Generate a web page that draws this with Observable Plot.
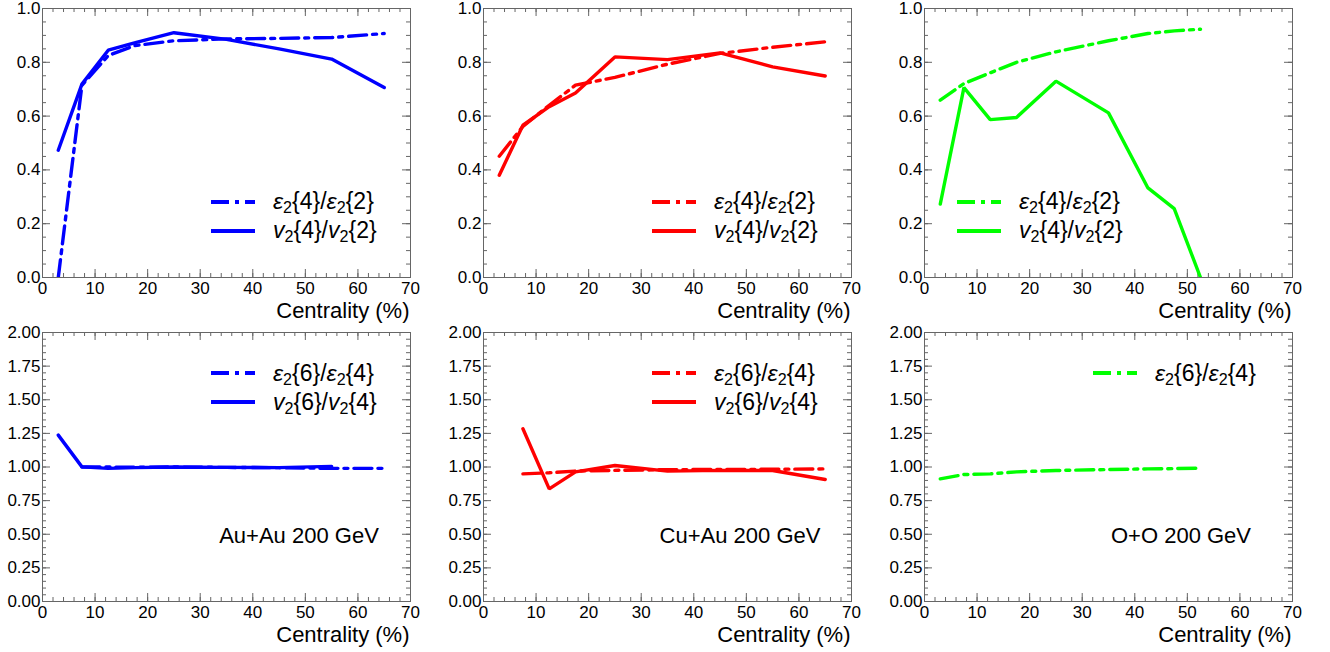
<!DOCTYPE html>
<html>
<head>
<meta charset="utf-8">
<script src="https://cdn.jsdelivr.net/npm/d3@7"></script>
<script src="https://cdn.jsdelivr.net/npm/@observablehq/plot@0.6"></script>
<style>
  html, body { margin: 0; padding: 0; background: #fff; }
  body { font-family: "Liberation Sans", Arial, Helvetica, sans-serif; }
  #root { position: relative; width: 1330px; height: 652px; overflow: hidden; }
  .panel { position: absolute; width: 440px; height: 326px; }
  .legend { position: absolute; left: 211px; font-size: 23px; color: #000; }
  .row { display: flex; align-items: center; height: 29px; white-space: nowrap; }
  .row svg { flex: none; }
  .row span { margin-left: 18px; }
  sub { font-size: 70%; vertical-align: -0.25em; line-height: 0; }
  .sys { position: absolute; font-size: 22px; transform: translate(-50%, -50%); white-space: nowrap; }
</style>
</head>
<body>
<div id="root"></div>
<script>
// ---------- data ----------
const xTickLabels = [0, 10, 20, 30, 40, 50, 60, 70];
const yTicksTop = [0, 0.2, 0.4, 0.6, 0.8, 1.0];
const yTicksBottom = [0, 0.25, 0.5, 0.75, 1.0, 1.25, 1.5, 1.75, 2.0];

const centAuCu = [3, 7.5, 12.5, 17.5, 25, 35, 45, 55, 65];
const centO = [3, 7.5, 12.5, 17.5, 25, 35, 42.5, 47.5, 52.5];

// Au+Au
const auEps42 = [0.0, 0.715, 0.825, 0.862, 0.88, 0.887, 0.889, 0.892, 0.907];
const auV42 = [0.473, 0.719, 0.845, 0.872, 0.91, 0.885, 0.85, 0.812, 0.706];
const auEps64 = [null, 1.0, 1.0, 0.998, 1.0, 0.997, 0.995, 0.99, 0.99];
const auV64 = [1.237, 1.001, 0.99, 0.995, 1.0, 0.997, 0.995, 1.005, null];

// Cu+Au
const cuEps42 = [0.451, 0.562, 0.64, 0.715, 0.744, 0.793, 0.833, 0.856, 0.876];
const cuV42 = [0.38, 0.566, 0.635, 0.686, 0.82, 0.81, 0.835, 0.783, 0.749];
const cuEps64 = [null, 0.949, 0.957, 0.97, 0.975, 0.98, 0.982, 0.983, 0.986];
const cuV64 = [null, 1.284, 0.837, 0.964, 1.011, 0.969, 0.975, 0.974, 0.907];

// O+O
const oEps42 = [0.659, 0.721, 0.761, 0.80, 0.839, 0.88, 0.907, 0.917, 0.923];
const oV42 = [0.273, 0.706, 0.587, 0.595, 0.73, 0.612, 0.333, 0.256, 0.0];
const oEps64 = [0.912, 0.944, 0.949, 0.964, 0.974, 0.981, 0.986, 0.988, 0.991];

const systems = ["Au+Au 200 GeV", "Cu+Au 200 GeV", "O+O 200 GeV"];
const colors = ["#0000ff", "#ff0000", "#00ff00"];

// ---------- layout ----------
const W = 440, H = 326, ML = 42, MR = 30, MT = 8, MB = 49;
const FW = W - ML - MR, FH = H - MT - MB;
const DASHDOT = "18,6,4,6";
const FRAME = "#666666";

function toRows(cent, vals) {
  return cent.map((c, i) => ({c, v: vals[i]}));
}

function makePlot({yDomain, yTicks, yMinorStep, yFmt, series}) {
  const xMinor = d3.range(0, 70.001, 2);
  const yMinor = d3.range(yDomain[0], yDomain[1] + 1e-9, yMinorStep);
  const marks = [
    Plot.frame({stroke: FRAME, strokeWidth: 1}),
    Plot.tickX(xMinor, {x: d => d, insetTop: FH - 4, stroke: FRAME}),
    Plot.tickX(xTickLabels, {x: d => d, insetTop: FH - 8, stroke: FRAME}),
    Plot.tickX(xMinor, {x: d => d, insetBottom: FH - 4, stroke: FRAME}),
    Plot.tickX(xTickLabels, {x: d => d, insetBottom: FH - 8, stroke: FRAME}),
    Plot.tickY(yMinor, {y: d => d, insetRight: FW - 4, stroke: FRAME}),
    Plot.tickY(yTicks, {y: d => d, insetRight: FW - 8, stroke: FRAME}),
    Plot.tickY(yMinor, {y: d => d, insetLeft: FW - 4, stroke: FRAME}),
    Plot.tickY(yTicks, {y: d => d, insetLeft: FW - 8, stroke: FRAME}),
    Plot.axisX({ticks: xTickLabels, tickSize: 0, tickPadding: 4, tickFormat: d => String(d), label: null, fontSize: 17}),
    Plot.axisY({ticks: yTicks, tickSize: 0, tickPadding: 2, tickFormat: yFmt, label: null, fontSize: 17}),
    Plot.text(["Centrality (%)"], {text: d => d, frameAnchor: "bottom-right", textAnchor: "end", lineAnchor: "middle", dy: 33, dx: -1, fontSize: 22, fill: "#000"})
  ];
  for (const s of series) {
    marks.push(Plot.line(toRows(s.cent, s.vals), {
      x: "c", y: "v", stroke: s.color, strokeWidth: 3.4,
      strokeDasharray: s.dash ? DASHDOT : null, clip: true, strokeLinejoin: "miter"
    }));
  }
  return Plot.plot({
    width: W, height: H, marginLeft: ML, marginRight: MR, marginTop: MT, marginBottom: MB,
    x: {domain: [0, 70]},
    y: {domain: yDomain},
    style: {fontFamily: '"Liberation Sans", Arial, Helvetica, sans-serif', fontSize: "17px", background: "transparent", color: "#000"},
    marks
  });
}

function legendHTML(entries, top, left) {
  const div = document.createElement("div");
  div.className = "legend";
  div.style.top = top + "px";
  if (left != null) div.style.left = left + "px";
  for (const e of entries) {
    const row = document.createElement("div");
    row.className = "row";
    row.innerHTML = `<svg width="44" height="8"><line x1="0" x2="44" y1="4" y2="4" stroke="${e.color}" stroke-width="3.8" ${e.dash ? `stroke-dasharray="${DASHDOT}"` : ""}/></svg><span>${e.label}</span>`;
    div.appendChild(row);
  }
  return div;
}

const epsLabel = (a, b) => `<i>ε</i><sub>2</sub>{${a}}/<i>ε</i><sub>2</sub>{${b}}`;
const vLabel = (a, b) => `<i>v</i><sub>2</sub>{${a}}/<i>v</i><sub>2</sub>{${b}}`;

const root = document.getElementById("root");
const lefts = [0, 441, 882];

const topSeries = [
  [{cent: centAuCu, vals: auEps42, dash: true}, {cent: centAuCu, vals: auV42, dash: false}],
  [{cent: centAuCu, vals: cuEps42, dash: true}, {cent: centAuCu, vals: cuV42, dash: false}],
  [{cent: centO, vals: oEps42, dash: true}, {cent: centO, vals: oV42, dash: false}]
];
const bottomSeries = [
  [{cent: centAuCu, vals: auEps64, dash: true}, {cent: centAuCu, vals: auV64, dash: false}],
  [{cent: centAuCu, vals: cuEps64, dash: true}, {cent: centAuCu, vals: cuV64, dash: false}],
  [{cent: centO, vals: oEps64, dash: true}]
];

for (let i = 0; i < 3; i++) {
  const pTop = document.createElement("div");
  pTop.className = "panel";
  pTop.style.left = lefts[i] + "px";
  pTop.style.top = "0px";
  pTop.appendChild(makePlot({
    yDomain: [0, 1], yTicks: yTicksTop, yMinorStep: 0.05, yFmt: d3.format(".1f"),
    series: topSeries[i].map(s => ({...s, color: colors[i]}))
  }));
  pTop.appendChild(legendHTML([
    {color: colors[i], dash: true, label: epsLabel(4, 2)},
    {color: colors[i], dash: false, label: vLabel(4, 2)}
  ], 187, i === 2 ? 75 : 211));
  root.appendChild(pTop);

  const pBot = document.createElement("div");
  pBot.className = "panel";
  pBot.style.left = lefts[i] + "px";
  pBot.style.top = "324px";
  pBot.appendChild(makePlot({
    yDomain: [0, 2], yTicks: yTicksBottom, yMinorStep: 0.05, yFmt: d3.format(".2f"),
    series: bottomSeries[i].map(s => ({...s, color: colors[i]}))
  }));
  const entries = [{color: colors[i], dash: true, label: epsLabel(6, 4)}];
  if (i < 2) entries.push({color: colors[i], dash: false, label: vLabel(6, 4)});
  pBot.appendChild(legendHTML(entries, 34.5, 211));
  const sys = document.createElement("div");
  sys.className = "sys";
  sys.style.left = "299px";
  sys.style.top = "212px";
  sys.textContent = systems[i];
  pBot.appendChild(sys);
  root.appendChild(pBot);
}
</script>
</body>
</html>
